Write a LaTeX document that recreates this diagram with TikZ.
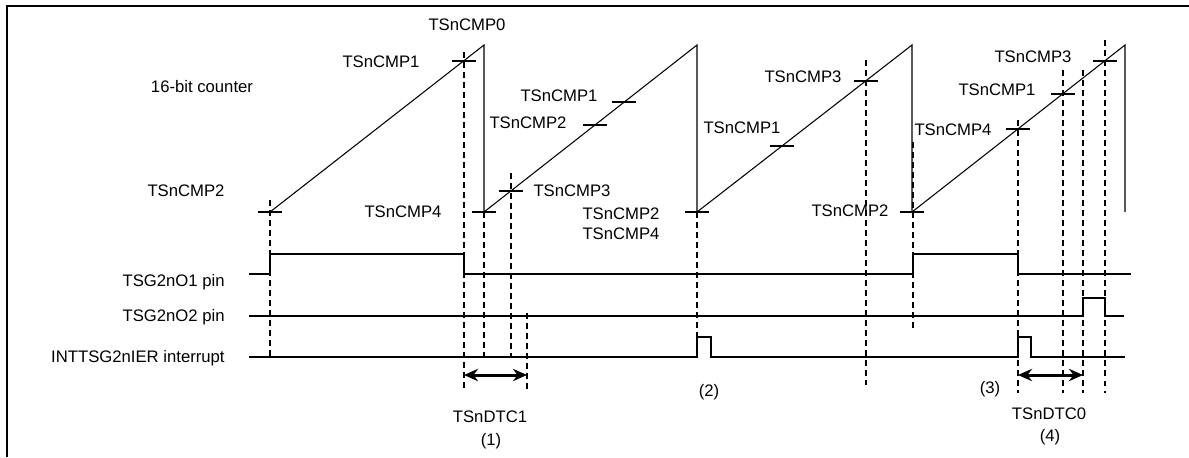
\documentclass[tikz,border=0pt]{standalone}
\usepackage{fontspec}
\setmainfont{Liberation Sans}
\usetikzlibrary{arrows.meta}

\begin{document}
\begin{tikzpicture}[
        x=0.02cm, y=-0.02cm,
        every node/.style={font=\fontsize{9.5}{11.5}\selectfont, inner sep=0pt},
        wave/.style={line width=0.6pt},
        guide/.style={line width=0.6pt, dash pattern=on 3.4pt off 2.3pt},
        span/.style={line width=1.7pt, {Stealth[length=8pt,width=7pt]}-{Stealth[length=8pt,width=7pt]}},
        sig/.style={anchor=east, align=right}
    ]
    \useasboundingbox (0,0) rectangle (1189,457);
    \draw[line width=1.4pt] (7,457) -- (7,6) -- (1189,6);

    % counter
    \coordinate (r1) at (270,212);
    \coordinate (p1) at (484,45);
    \coordinate (b1) at (484,212);
    \coordinate (p2) at (697,45);
    \coordinate (b2) at (697,212);
    \coordinate (p3) at (912,45);
    \coordinate (b3) at (912,212);
    \coordinate (p4) at (1125,45);
    \coordinate (e4) at (1125,212);
    \draw[wave] (r1) -- (p1) -- (b1) -- (p2) -- (b2) -- (p3) -- (b3) -- (p4) -- (e4);

    \foreach \p in {(270,212), (464,61), (484,212), (511,191), (595,125), (624,102),
                    (697,212), (782,146), (866,81), (912,212), (1018,129), (1063,94), (1105,61)}
        \draw[wave] \p +(-12,0) -- +(12,0);

    % guides
    \foreach \gx/\ga/\gb in {270/200/356, 464/52/388, 484/212/356, 511/173/356, 527/313/393,
                             697/212/337, 866/60/385, 913/142/328, 1018/120/393,
                             1063/70/393, 1083/70/393, 1105/40/393}
        \draw[guide] (\gx,\ga) -- (\gx,\gb);

    % labels on the counter
    \node (cnt) at (202,87) {16-bit counter};
    \node (c2a) at (186,191) {TSnCMP2};
    \node (c1a) at (381,62) {TSnCMP1};
    \node (c0a) at (467,25) {TSnCMP0};
    \node (c4a) at (403,212) {TSnCMP4};
    \node (c3b) at (572,191) {TSnCMP3};
    \node (c1b) at (559,96) {TSnCMP1};
    \node (c2b) at (528,123) {TSnCMP2};
    \node[align=center] (c24c) at (621,224) {TSnCMP2\\TSnCMP4};
    \node (c1c) at (742,128) {TSnCMP1};
    \node (c3c) at (803,77) {TSnCMP3};
    \node (c2d) at (850,211) {TSnCMP2};
    \node (c4d) at (953,130) {TSnCMP4};
    \node (c1d) at (997,90) {TSnCMP1};
    \node (c3d) at (1033,57) {TSnCMP3};

    % pins
    \node[sig] (o1) at (225,282) {TSG2nO1 pin};
    \node[sig] (o2) at (225,317) {TSG2nO2 pin};
    \node[sig] (irq) at (225,358) {INTTSG2nIER interrupt};
    \draw[wave] (249,274) -- (270,274) -- (270,254) -- (464,254) -- (464,274) -- (913,274)
        -- (913,254) -- (1018,254) -- (1018,274) -- (1131,274);
    \draw[wave] (249,316) -- (1083,316) -- (1083,298) -- (1105,298) -- (1105,316) -- (1124,316);
    \draw[wave] (249,357) -- (697,357) -- (697,337) -- (711,337) -- (711,357) -- (1018,357)
        -- (1018,337) -- (1031,337) -- (1031,357) -- (1125,357);

    % dead times
    \coordinate (d1a) at (464,375);
    \coordinate (d1b) at (527,375);
    \coordinate (d0a) at (1018,375);
    \coordinate (d0b) at (1083,375);
    \draw[span] (d1a) -- (d1b);
    \draw[span] (d0a) -- (d0b);
    \node (dtc1) at (490,417) {TSnDTC1};
    \node (n1) at (491,441) {(1)};
    \node (n2) at (709,392) {(2)};
    \node (n3) at (990,389) {(3)};
    \node (dtc0) at (1049,414) {TSnDTC0};
    \node (n4) at (1050,437) {(4)};
\end{tikzpicture}
\end{document}
